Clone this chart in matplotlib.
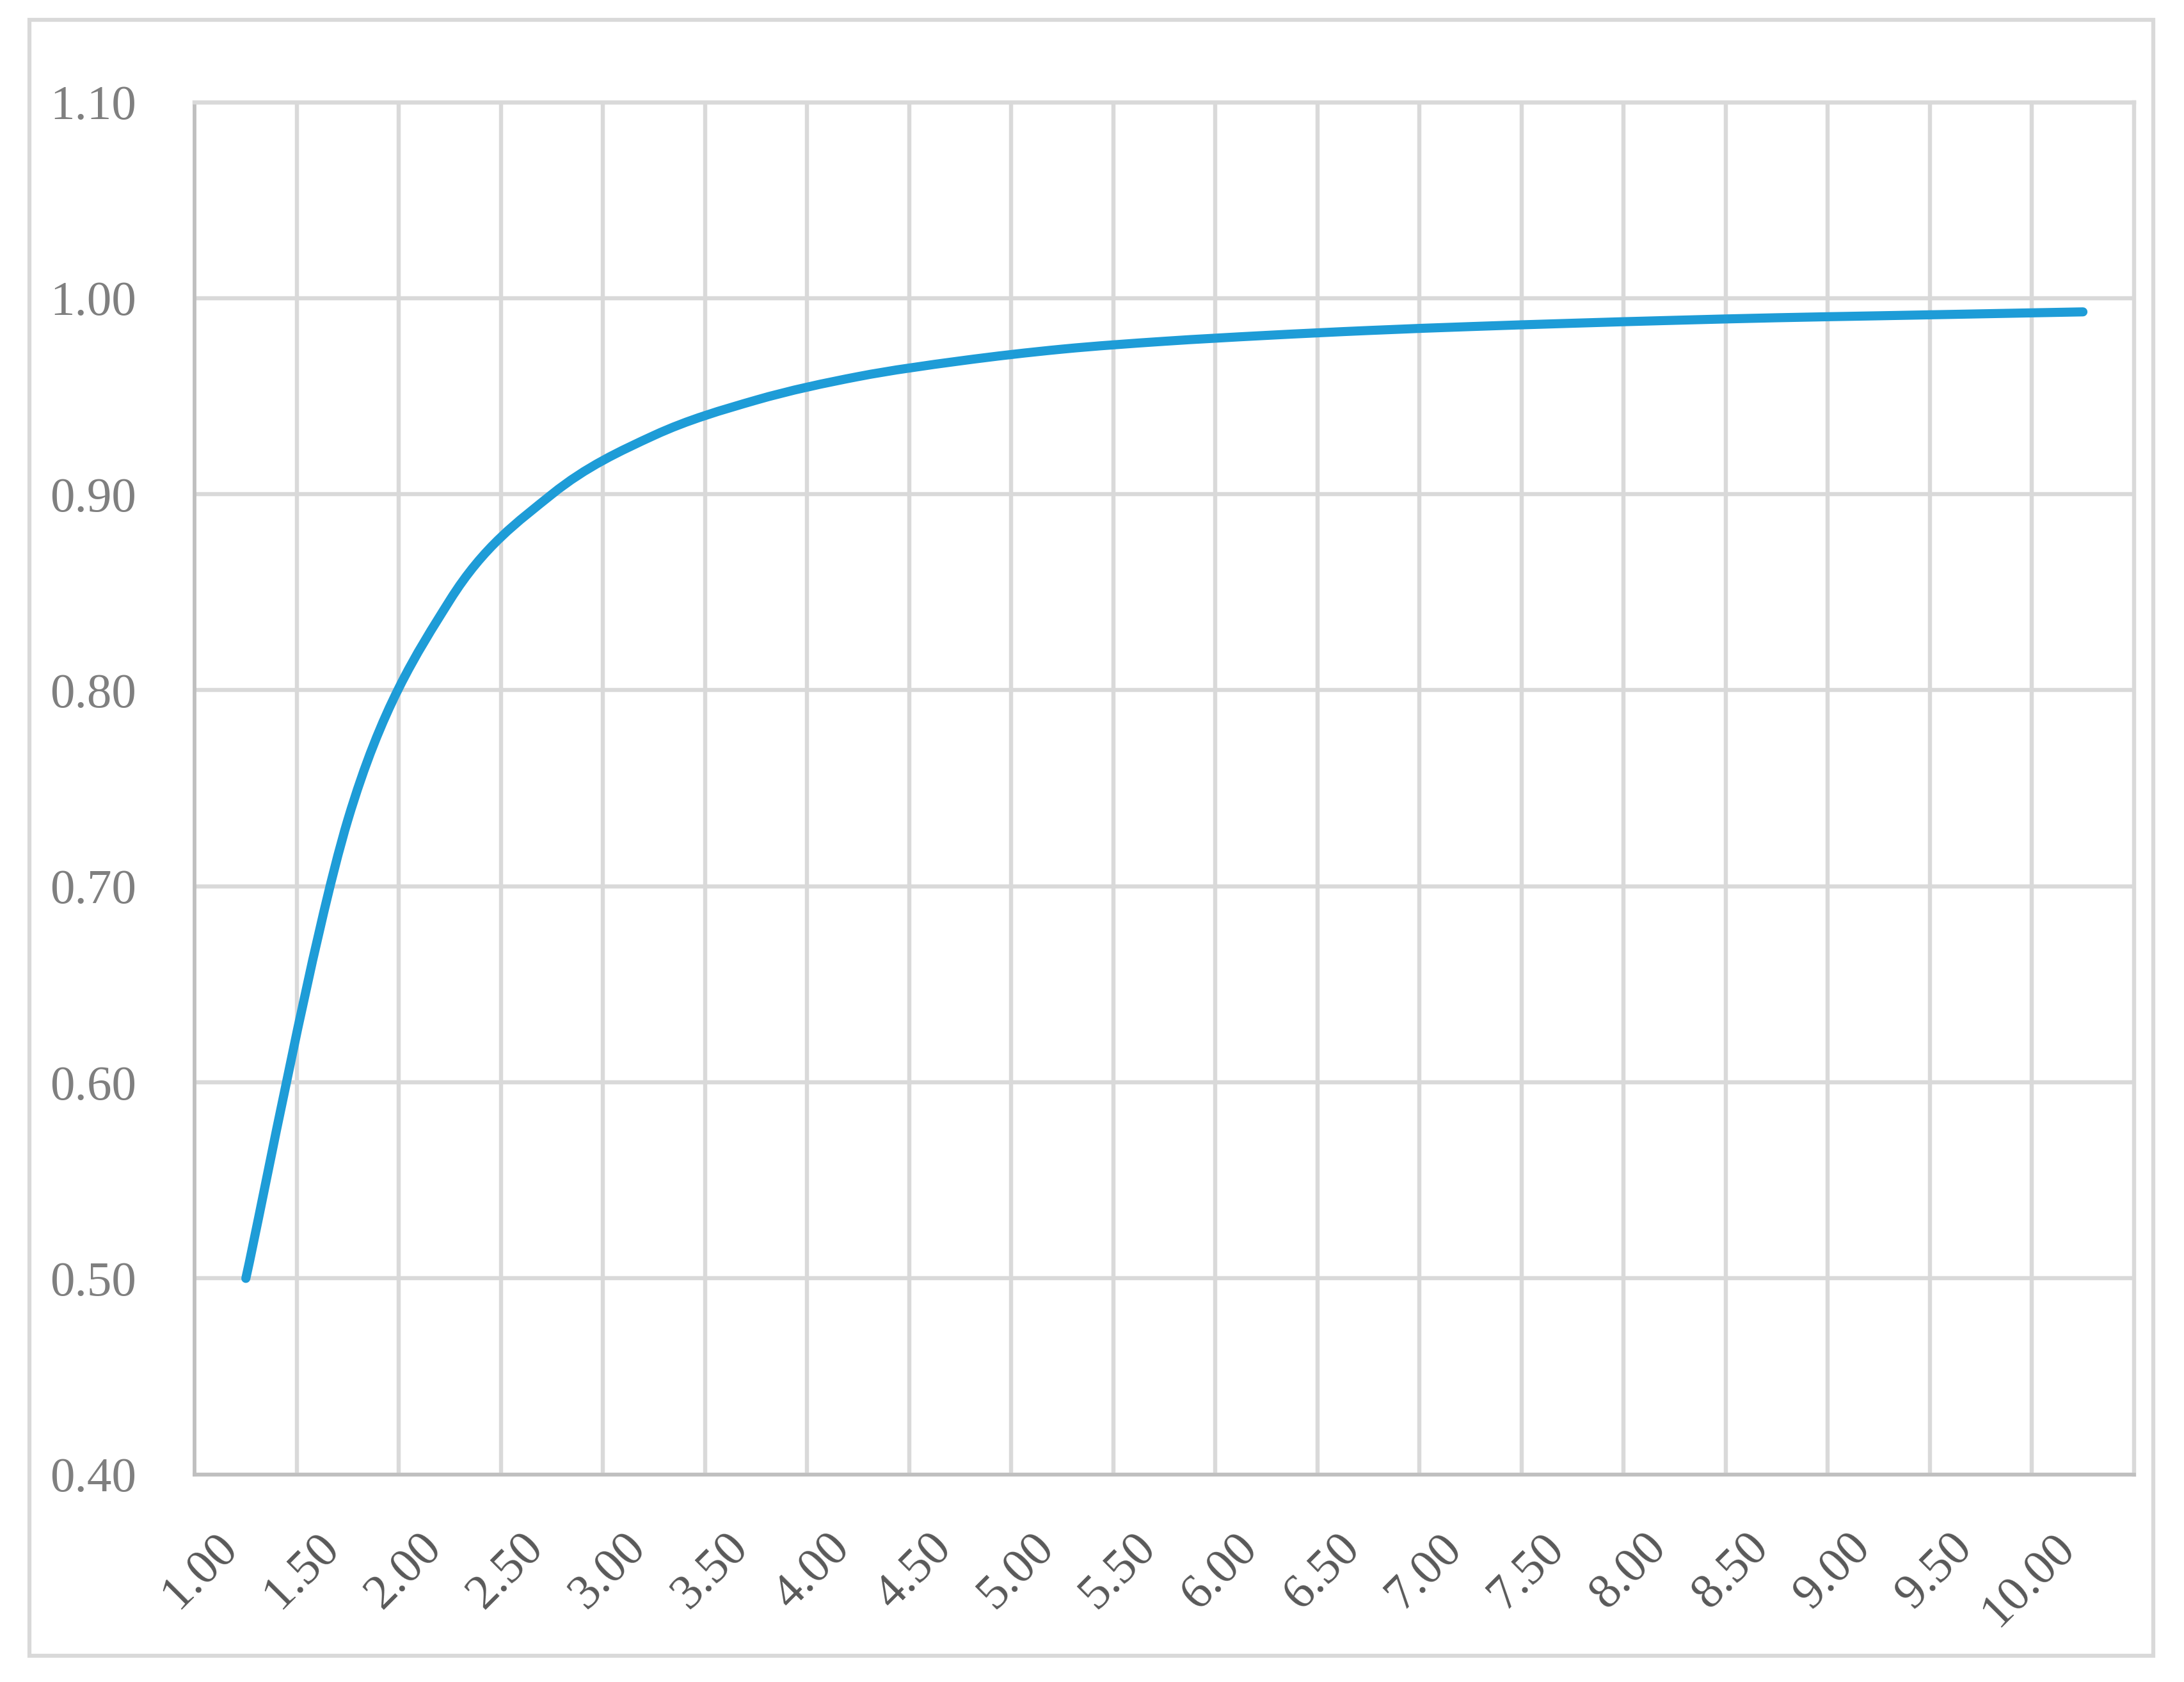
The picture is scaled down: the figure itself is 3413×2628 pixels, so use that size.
import numpy as np
import matplotlib
matplotlib.use("Agg")
from matplotlib import pyplot as plt
from matplotlib.path import Path
from matplotlib.patches import PathPatch, Rectangle
from matplotlib.ticker import FixedLocator

# values
x_values = [1.00, 1.50, 2.00, 2.50, 3.00, 3.50, 4.00, 4.50, 5.00, 5.50,
            6.00, 6.50, 7.00, 7.50, 8.00, 8.50, 9.00, 9.50, 10.00]
x_labels = ["1.00", "1.50", "2.00", "2.50", "3.00", "3.50", "4.00", "4.50", "5.00", "5.50",
            "6.00", "6.50", "7.00", "7.50", "8.00", "8.50", "9.00", "9.50", "10.00"]
y_values = [0.500, 0.734, 0.846, 0.900, 0.930, 0.948, 0.960, 0.968, 0.974, 0.978,
            0.981, 0.9835, 0.9855, 0.9872, 0.9887, 0.990, 0.991, 0.992, 0.993]
y_ticks = [0.40, 0.50, 0.60, 0.70, 0.80, 0.90, 1.00, 1.10]
y_labels = ["0.40", "0.50", "0.60", "0.70", "0.80", "0.90", "1.00", "1.10"]

LINE_COLOR = "#1E9CD7"
GRID_COLOR = "#D9D9D9"
AXIS_COLOR = "#BFBFBF"

plt.rcParams["font.family"] = ["Liberation Serif", "DejaVu Serif"]


def smooth_path(xs, ys):
    # Excel style "smoothed line": cubic Bezier segments through every point
    pts = np.column_stack([xs, ys])
    n = len(pts)
    verts = [pts[0]]
    codes = [Path.MOVETO]
    for i in range(n - 1):
        p0 = pts[i - 1] if i > 0 else pts[i]
        p1 = pts[i]
        p2 = pts[i + 1]
        p3 = pts[i + 2] if i + 2 < n else pts[i + 1]
        c1 = p1 + (p2 - p0) / 6.0
        c2 = p2 - (p3 - p1) / 6.0
        verts += [c1, c2, p2]
        codes += [Path.CURVE4] * 3
    return Path(verts, codes)


fig = plt.figure(figsize=(3413 / 300, 2628 / 300), dpi=300)
ax = fig.add_axes([0.0892, 0.1234, 0.8879, 0.8159])

ax.add_patch(PathPatch(smooth_path(x_values, y_values), fill=False,
                       edgecolor=LINE_COLOR, lw=3.4, capstyle="round",
                       joinstyle="round", zorder=3))

ax.set_xlim(0.75, 10.25)
ax.set_ylim(0.40, 1.10)

ax.set_xticks(x_values, x_labels, rotation=45, ha="right", va="top")
ax.xaxis.set_minor_locator(FixedLocator(np.arange(1.25, 10.0, 0.5)))
ax.set_yticks(y_ticks, y_labels)

ax.grid(True, which="minor", axis="x", color=GRID_COLOR, lw=1.55)
ax.grid(True, which="major", axis="y", color=GRID_COLOR, lw=1.55)
ax.set_axisbelow(True)

ax.tick_params(axis="both", which="both", length=0)
ax.tick_params(axis="x", which="major", pad=19, labelsize=18.5, labelcolor="#595959")
ax.tick_params(axis="y", which="major", pad=22, labelsize=18.5, labelcolor="#7F7F7F")

for side in ["top", "right"]:
    ax.spines[side].set_color(GRID_COLOR)
    ax.spines[side].set_linewidth(1.55)
for side in ["left", "bottom"]:
    ax.spines[side].set_color(AXIS_COLOR)
    ax.spines[side].set_linewidth(1.4)

# light frame round the whole chart
fig.patches.append(Rectangle((46 / 3413, 1 - 2587 / 2628), (3365 - 46) / 3413, (2587 - 31) / 2628,
                             transform=fig.transFigure, fill=False,
                             edgecolor=GRID_COLOR, lw=1.5))

fig.savefig("out.png", dpi=300, facecolor="white")
